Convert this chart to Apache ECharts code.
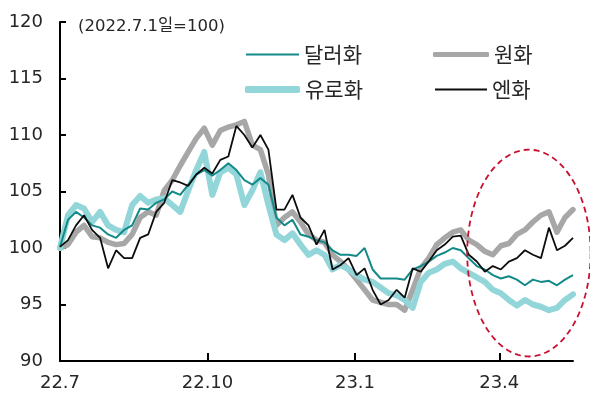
<!DOCTYPE html>
<html>
<head>
<meta charset="utf-8">
<script src="https://cdn.jsdelivr.net/npm/echarts@6/dist/echarts.min.js"></script>
<style>
  html, body { margin: 0; padding: 0; background: #fff; }
  #chart { width: 590px; height: 399px; }
</style>
</head>
<body>
<div id="chart"></div>
<script>
// Exchange-rate index, 2022.7.1 = 100
const dates = [
  '2022-07-01','2022-07-06','2022-07-11','2022-07-16','2022-07-21','2022-07-26','2022-07-31',
  '2022-08-05','2022-08-10','2022-08-15','2022-08-20','2022-08-25','2022-08-30',
  '2022-09-04','2022-09-09','2022-09-14','2022-09-19','2022-09-24','2022-09-29',
  '2022-10-04','2022-10-09','2022-10-14','2022-10-19','2022-10-24','2022-10-29',
  '2022-11-03','2022-11-08','2022-11-13','2022-11-18','2022-11-23','2022-11-28',
  '2022-12-03','2022-12-08','2022-12-13','2022-12-18','2022-12-23','2022-12-28',
  '2023-01-02','2023-01-07','2023-01-12','2023-01-17','2023-01-22','2023-01-27',
  '2023-02-01','2023-02-06','2023-02-11','2023-02-16','2023-02-21','2023-02-26',
  '2023-03-03','2023-03-08','2023-03-13','2023-03-18','2023-03-23','2023-03-28',
  '2023-04-02','2023-04-07','2023-04-12','2023-04-17','2023-04-22','2023-04-27',
  '2023-05-02','2023-05-07','2023-05-12','2023-05-17'
];

const usd = [
  100.1,102.5,103.2,102.7,102.0,101.8,101.2,100.9,101.6,102.0,
  103.5,103.4,104.0,104.3,105.0,104.7,105.6,106.5,106.9,106.4,
  106.9,107.5,106.9,106.0,105.6,106.2,105.6,102.7,102.0,102.5,
  101.2,101.0,100.7,100.5,99.8,99.4,99.4,99.3,100.0,98.1,
  97.3,97.3,97.3,97.2,98.1,98.4,98.8,99.3,99.6,100.0,
  99.8,99.1,98.4,98.1,97.6,97.3,97.5,97.2,96.7,97.2,
  97.0,97.1,96.7,97.2,97.6
];

const krw = [
  100.0,100.3,101.4,102.0,101.0,100.9,100.5,100.3,100.4,101.2,
  102.7,103.2,102.9,105.1,106.0,107.3,108.5,109.7,110.6,109.1,
  110.4,110.7,110.9,111.2,109.1,108.7,106.5,102.0,102.7,103.2,
  102.3,101.2,100.7,100.5,99.4,98.8,98.1,97.2,96.3,95.4,
  95.2,95.0,95.0,94.5,96.3,98.2,99.1,100.3,100.9,101.4,
  101.6,100.7,100.3,99.7,99.4,100.2,100.4,101.2,101.6,102.3,
  102.9,103.2,101.4,102.7,103.4
];

const eur = [
  100.0,102.9,103.8,103.5,102.3,103.2,102.0,101.6,101.4,103.8,
  104.6,104.0,104.3,104.4,103.8,103.2,105.1,106.9,108.5,104.7,
  106.7,107.1,106.5,103.8,105.1,106.7,103.8,101.2,100.7,101.3,
  100.3,99.4,99.8,99.4,98.1,98.5,98.1,97.6,97.2,97.0,
  96.5,96.0,95.8,95.4,94.7,97.0,97.8,98.1,98.6,98.8,
  98.2,97.8,97.4,97.0,96.3,96.0,95.4,94.9,95.4,95.0,
  94.8,94.5,94.7,95.4,95.9
];

const jpy = [
  100.1,100.7,102.0,102.9,101.6,100.9,98.2,99.8,99.1,99.1,
  100.9,101.2,103.2,104.0,106.0,105.8,105.5,106.5,107.1,106.6,
  107.8,108.1,110.8,110.0,108.9,110.0,108.7,103.4,103.4,104.7,
  102.7,102.0,100.3,101.6,98.1,98.5,99.1,97.6,98.2,96.3,
  95.0,95.4,96.3,95.6,98.2,97.9,98.8,99.8,100.3,101.0,
  101.1,99.4,98.8,97.9,98.4,98.1,98.8,99.1,99.8,99.4,
  99.1,101.8,99.8,100.2,100.9
];

const seriesNames = ['달러화', '원화', '유로화', '엔화'];
const tickDates = ['2022-07-01', '2022-10-01', '2023-01-01', '2023-04-01'];
const baseNote = '(2022.7.1일=100)';

// Highlighted recent period (data-space bounds of the dashed ellipse)
const focusDates = ['2023-03-12', '2023-05-28'];
const focusValues = [90.4, 108.7];

const NUM_FONT = '"DejaVu Sans", "Noto Sans CJK KR", sans-serif';
const KR_FONT = '"Noto Sans CJK KR", "DejaVu Sans", sans-serif';
const TEXT = '#262626';

function ts(s) {
  const p = s.split('-').map(Number);
  return Date.UTC(p[0], p[1] - 1, p[2]);
}
function pairs(vals) {
  return dates.map((d, i) => [ts(d), vals[i]]);
}

const chart = echarts.init(document.getElementById('chart'), null, { renderer: 'canvas' });

function legendAt(name, left, top, width, height, icon) {
  return {
    data: [name], left: left, top: top, icon: icon,
    itemWidth: width, itemHeight: height, itemGap: 0,
    selectedMode: false,
    itemStyle: { borderWidth: 0 },
    textStyle: { fontFamily: KR_FONT, fontSize: 21, color: TEXT }
  };
}

const tickStamps = tickDates.map(ts);

chart.setOption({
  animation: false,
  backgroundColor: '#fff',
  title: {
    text: baseNote, left: 73, top: 13,
    textStyle: { fontFamily: NUM_FONT, fontSize: 16.5, fontWeight: 'normal', color: TEXT }
  },
  legend: [
    legendAt(seriesNames[0], 241, 39, 53, 2, 'rect'),
    legendAt(seriesNames[1], 428, 39, 56, 5, 'roundRect'),
    legendAt(seriesNames[2], 240, 74, 55, 7, 'roundRect'),
    legendAt(seriesNames[3], 430, 74, 52, 2, 'rect')
  ],
  grid: { left: 60, right: 17, top: 22, bottom: 38 },
  xAxis: {
    type: 'value',
    min: ts(dates[0]),
    max: ts(dates[dates.length - 1]),
    splitLine: { show: false },
    axisLine: { show: true, lineStyle: { color: '#000', width: 2 } },
    axisTick: {
      show: true, inside: true, length: 8,
      lineStyle: { color: '#000', width: 2 },
      customValues: tickStamps
    },
    axisLabel: {
      customValues: tickStamps,
      fontFamily: NUM_FONT, fontSize: 18, color: TEXT, margin: 13,
      formatter: function (v) {
        const d = new Date(v);
        return String(d.getUTCFullYear()).slice(2) + '.' + (d.getUTCMonth() + 1);
      }
    }
  },
  yAxis: {
    type: 'value', min: 90, max: 120, interval: 5,
    splitLine: { show: false },
    axisLine: { show: true, lineStyle: { color: '#000', width: 2 } },
    axisTick: { show: true, inside: true, length: 6, lineStyle: { color: '#000', width: 2 } },
    axisLabel: { fontFamily: NUM_FONT, fontSize: 18, color: TEXT, margin: 17 }
  },
  series: [
    {
      name: seriesNames[1], type: 'line', data: pairs(krw), color: '#A7A7A7',
      symbol: 'none', lineStyle: { width: 5.5, color: '#A7A7A7', join: 'round', cap: 'round' }, z: 2
    },
    {
      name: seriesNames[2], type: 'line', data: pairs(eur), color: '#93D6D9',
      symbol: 'none', lineStyle: { width: 6, color: '#93D6D9', join: 'round', cap: 'round' }, z: 3
    },
    {
      name: seriesNames[0], type: 'line', data: pairs(usd), color: '#128A89',
      symbol: 'none', lineStyle: { width: 2, color: '#128A89' }, z: 4
    },
    {
      name: seriesNames[3], type: 'line', data: pairs(jpy), color: '#0d0d0d',
      symbol: 'none', lineStyle: { width: 1.8, color: '#0d0d0d' }, z: 5
    }
  ]
});

// Dashed ellipse around the recent period, placed from data coordinates
function drawFocus() {
  const p0 = chart.convertToPixel({ gridIndex: 0 }, [ts(focusDates[0]), focusValues[1]]);
  const p1 = chart.convertToPixel({ gridIndex: 0 }, [ts(focusDates[1]), focusValues[0]]);
  const cx = (p0[0] + p1[0]) / 2, cy = (p0[1] + p1[1]) / 2;
  const rx = Math.abs(p1[0] - p0[0]) / 2, ry = Math.abs(p1[1] - p0[1]) / 2;
  const pts = [];
  for (let i = 0; i < 180; i++) {
    const a = (i / 180) * Math.PI * 2;
    pts.push([cx + rx * Math.cos(a), cy + ry * Math.sin(a)]);
  }
  chart.setOption({
    graphic: [{
      type: 'polygon', z: 10, silent: true,
      shape: { points: pts },
      style: { fill: 'none', stroke: '#C8102E', lineWidth: 1.8, lineDash: [6, 4] }
    }]
  });
}
drawFocus();
</script>
</body>
</html>
